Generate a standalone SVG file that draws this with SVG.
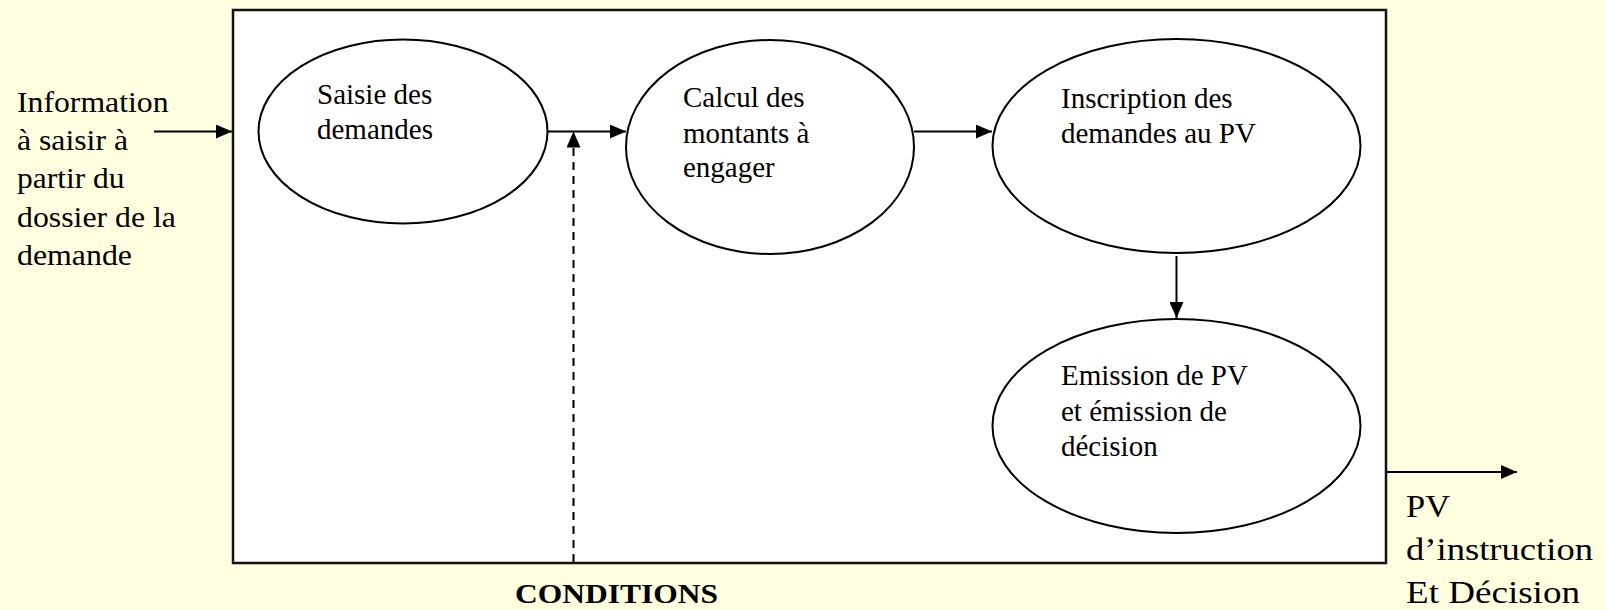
<svg xmlns="http://www.w3.org/2000/svg" width="1605" height="610" viewBox="0 0 1605 610">
  <style>
    .bg { fill: #FFFFE0; }
    .frame { fill: #FFFFFF; stroke: #111111; stroke-width: 2.5; }
    .proc { fill: #FFFFFF; stroke: #000000; stroke-width: 2; }
    .lbl { font-family: "Liberation Serif", "Times New Roman", serif; font-size: 29px; fill: #000000; }
    .ext { font-size: 29.5px; }
    .out { font-size: 31px; }
    .bold { font-weight: bold; font-size: 27px; }
    .link { fill: none; stroke: #000000; stroke-width: 2; }
    .dash { stroke-dasharray: 8 6; }
  </style>
  <defs>
    <marker id="head" markerUnits="userSpaceOnUse" markerWidth="16" markerHeight="14" refX="16" refY="7" orient="auto">
      <path d="M0,0 L16,7 L0,14 Z" fill="#000000"/>
    </marker>
  </defs>

  <rect class="bg" x="0" y="0" width="1605" height="610"/>

  <!-- system boundary -->
  <rect id="systeme" class="frame" x="233" y="10" width="1153" height="553"/>

  <!-- external input -->
  <g id="entree">
    <text class="lbl ext" x="17" y="111.5" textLength="151.5" lengthAdjust="spacingAndGlyphs">Information</text>
    <text class="lbl ext" x="17" y="149.5" textLength="111" lengthAdjust="spacingAndGlyphs">à saisir à</text>
    <text class="lbl ext" x="17" y="188" textLength="107.5" lengthAdjust="spacingAndGlyphs">partir du</text>
    <text class="lbl ext" x="17" y="226.5" textLength="159" lengthAdjust="spacingAndGlyphs">dossier de la</text>
    <text class="lbl ext" x="17" y="265" textLength="115" lengthAdjust="spacingAndGlyphs">demande</text>
  </g>

  <g id="saisie">
    <ellipse class="proc" cx="403" cy="131.5" rx="144.5" ry="92"/>
    <text class="lbl" x="317" y="103.5">Saisie des</text>
    <text class="lbl" x="317" y="138.5">demandes</text>
  </g>

  <g id="calcul">
    <ellipse class="proc" cx="770" cy="147" rx="144" ry="107"/>
    <text class="lbl" x="683" y="107">Calcul des</text>
    <text class="lbl" x="683" y="143">montants à</text>
    <text class="lbl" x="683" y="177">engager</text>
  </g>

  <g id="inscription">
    <ellipse class="proc" cx="1176.5" cy="146" rx="184" ry="107"/>
    <text class="lbl" x="1061" y="108">Inscription des</text>
    <text class="lbl" x="1061" y="143">demandes au PV</text>
  </g>

  <g id="emission">
    <ellipse class="proc" cx="1176.5" cy="426" rx="184" ry="107"/>
    <text class="lbl" x="1061" y="385">Emission de PV</text>
    <text class="lbl" x="1061" y="421">et émission de</text>
    <text class="lbl" x="1061" y="456">décision</text>
  </g>

  <g id="conditions">
    <text class="lbl bold" x="515" y="603" textLength="203" lengthAdjust="spacingAndGlyphs">CONDITIONS</text>
  </g>

  <g id="sortie">
    <text class="lbl out" x="1406" y="517" textLength="44" lengthAdjust="spacingAndGlyphs">PV</text>
    <text class="lbl out" x="1406" y="560" textLength="187" lengthAdjust="spacingAndGlyphs">d’instruction</text>
    <text class="lbl out" x="1406" y="603" textLength="174" lengthAdjust="spacingAndGlyphs">Et Décision</text>
  </g>

  <!-- connectors -->
  <g id="connecteurs">
    <path class="link" d="M154,131.5 H232" marker-end="url(#head)"/>
    <path class="link" d="M547.5,131.5 H626" marker-end="url(#head)"/>
    <path class="link" d="M914,131.5 H992" marker-end="url(#head)"/>
    <path class="link dash" d="M573.5,562 V131.5" marker-end="url(#head)"/>
    <path class="link" d="M1176.5,256 V318" marker-end="url(#head)"/>
    <path class="link" d="M1386,472 H1517" marker-end="url(#head)"/>
  </g>
</svg>
